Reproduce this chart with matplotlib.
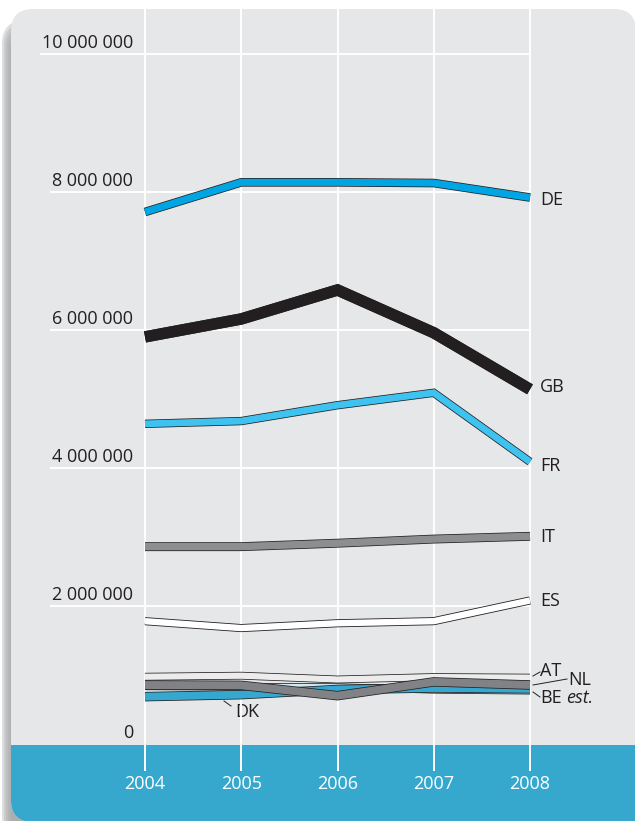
import matplotlib
matplotlib.use("Agg")
import matplotlib.pyplot as plt
from matplotlib.patches import FancyBboxPatch, Rectangle
import matplotlib.transforms as mtrans

plt.rcParams['font.family'] = ['Open Sans', 'DejaVu Sans']

# ---------------- data ----------------
years = [2004, 2005, 2006, 2007, 2008]
y_ticks = [0, 2000000, 4000000, 6000000, 8000000, 10000000]
y_tick_labels = ["0", "2 000 000", "4 000 000", "6 000 000", "8 000 000", "10 000 000"]

DE = [7710000, 8140000, 8140000, 8130000, 7920000]
GB = [5900000, 6160000, 6580000, 5960000, 5140000]
FR = [4640000, 4680000, 4910000, 5090000, 4090000]
IT = [2860000, 2860000, 2910000, 2970000, 3010000]
ES = [1780000, 1680000, 1750000, 1780000, 2080000]
AT = [975000, 990000, 935000, 970000, 962000]
NL = [855000, 850000, 700000, 900000, 855000]
DK = [686000, 715000, 790000, 812000, 800000]
BE = [835000, 830000, 825000, 785000, 772000]

# ---------------- figure ----------------
W, H = 635, 821
fig = plt.figure(figsize=(W / 100, H / 100), dpi=100)
fig.patch.set_facecolor('white')

bg = fig.add_axes([0, 0, 1, 1], zorder=0)
bg.set_xlim(0, W)
bg.set_ylim(H, 0)
bg.axis('off')

# shadow on the left
for i, a in enumerate([0.06, 0.09, 0.12, 0.16, 0.2, 0.25]):
    off = 12 - 2 * i
    s = FancyBboxPatch((off, 30 - 2 * i), 640, 820, boxstyle="round,pad=0,rounding_size=24",
                       fc='#7d7e81', ec='none', alpha=a)
    bg.add_patch(s)

panel = FancyBboxPatch((11, 9), 625, 813, boxstyle="round,pad=0,rounding_size=22",
                       fc='#e6e7e8', ec='none', zorder=1)
bg.add_patch(panel)
band = Rectangle((0, 745), 640, 90, fc='#36a8ce', ec='none', zorder=2)
bg.add_patch(band)
band.set_clip_path(panel)
bg.add_patch(Rectangle((600, 790), 40, 40, fc='#36a8ce', ec='none', zorder=2))

# ---------------- data axes ----------------
ax = fig.add_axes([0, 0, 1, 1], zorder=1)
ax.patch.set_alpha(0)
ax.axis('off')
px_year = (530 - 145) / 4.0
px_val = 138.0 / 2000000
ax.set_xlim(2004 - 145 / px_year, 2004 + (W - 145) / px_year)
ax.set_ylim((744 - H) / px_val, 744 / px_val)

xpx_yval = mtrans.blended_transform_factory(bg.transData, ax.transData)
xval_ypx = mtrans.blended_transform_factory(ax.transData, bg.transData)

# vertical grid
ax.vlines(years, 9, 771, colors='white', lw=1.4, transform=xval_ypx, zorder=2)
# horizontal grid
for v, lab in zip(y_ticks, y_tick_labels):
    if v == 0:
        continue
    x0 = 40 if v == 10000000 else 50
    ax.plot([x0, 530], [v, v], color='white', lw=1.4, transform=xpx_yval, zorder=2,
            solid_capstyle='butt')
for v, lab in zip(y_ticks, y_tick_labels):
    ax.text(133, v, lab, transform=xpx_yval + mtrans.ScaledTranslation(0, 2 / 100, fig.dpi_scale_trans),
            ha='right', va='bottom', fontsize=13, color='#231f20', zorder=5)

# year labels
for yr in years:
    ax.text(yr, 784, str(yr), transform=xval_ypx, ha='center', va='center',
            fontsize=13, color='white', zorder=5)

# ---------------- series ----------------
OUT = '#231f20'
series = [
    (BE, '#cfe8f6', 5.4, 4.3, 10),
    (DK, '#36a8d0', 6.8, 5.7, 11),
    (AT, '#ececed', 5.6, 4.5, 12),
    (NL, '#808285', 6.8, 5.7, 13),
    (ES, '#ffffff', 5.8, 4.6, 14),
    (IT, '#8d8e90', 6.4, 5.3, 15),
    (FR, '#3ec3f1', 6.0, 4.9, 16),
    (GB, OUT, 8.2, 8.2, 17),
    (DE, '#00a5e3', 6.2, 5.1, 18),
]
for vals, col, wo, wi, z in series:
    ax.plot(years, vals, color=OUT, lw=wo, solid_capstyle='butt', solid_joinstyle='miter', zorder=z)
    ax.plot(years, vals, color=col, lw=wi, solid_capstyle='butt', solid_joinstyle='miter', zorder=z + 0.5)

# end labels
fs = 13
for name, vals, dy in [("DE", DE, -2), ("GB", GB, 2), ("FR", FR, -4), ("IT", IT, -1), ("ES", ES, -1)]:
    ax.annotate(name, xy=(2008, vals[-1]), xytext=(10, dy), textcoords='offset pixels',
                ha='left', va='center', fontsize=fs, color=OUT, zorder=20)

# small labels with leaders (pixel positions)
def lab(text, x, y, style='normal'):
    return bg.text(x, y, text, ha='left', va='center', fontsize=fs, color=OUT, style=style, zorder=20)

lab("AT", 540, 671)
lab("NL", 568, 680)
t_be = lab("BE", 540, 698)
lab("DK", 235, 712)
fig.canvas.draw()
bb = t_be.get_window_extent()
lab("est.", bb.x1 + 4, 698, style='italic')

for (x0, y0, x1, y1) in [(533, 676, 540, 672), (533, 685, 567, 679), (533, 692, 540, 697), (224, 701, 231, 706)]:
    bg.plot([x0, x1], [y0, y1], color=OUT, lw=0.7, zorder=20)

fig.savefig("out.png", dpi=100, facecolor='white')
